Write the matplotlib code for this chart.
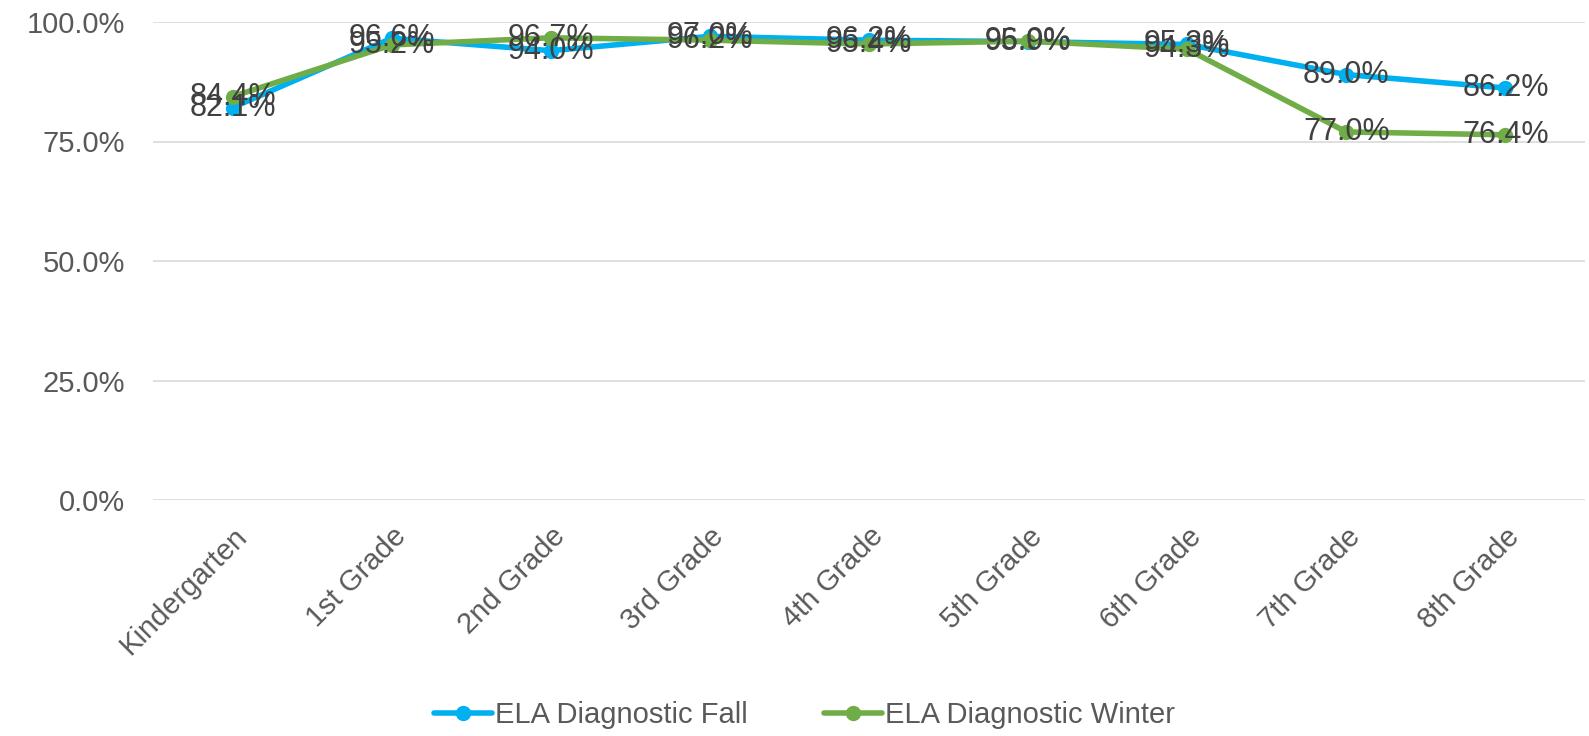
import numpy as np
import matplotlib.pyplot as plt
from matplotlib.ticker import FuncFormatter

grades = ['Kindergarten', '1st Grade', '2nd Grade', '3rd Grade', '4th Grade',
          '5th Grade', '6th Grade', '7th Grade', '8th Grade']
fall = [82.1, 96.6, 94.0, 97.0, 96.2, 95.9, 95.3, 89.0, 86.2]
winter = [84.4, 95.2, 96.7, 96.2, 95.4, 96.0, 94.3, 77.0, 76.4]

c_fall = '#00B0F0'
c_winter = '#70AD47'

plt.rcParams['font.family'] = ['Liberation Sans', 'DejaVu Sans']

fig = plt.figure(figsize=(15.89, 7.36), dpi=100)
ax = fig.add_axes([153 / 1589, 1 - 500 / 736, (1585 - 153) / 1589, 478 / 736])

x = np.arange(len(grades))
ax.plot(x, fall, color=c_fall, lw=4, marker='o', ms=10,
        label='ELA Diagnostic Fall', solid_capstyle='round')
ax.plot(x, winter, color=c_winter, lw=4, marker='o', ms=10,
        label='ELA Diagnostic Winter', solid_capstyle='round')

# labels sit on the points, like the Excel original
for xi, v in zip(x, fall):
    ax.text(xi, v, '{:.1f}%'.format(v), ha='center', va='center',
            fontsize=22, color='#404040')
for xi, v in zip(x, winter):
    ax.text(xi, v, '{:.1f}%'.format(v), ha='center', va='center',
            fontsize=22, color='#404040')

ax.set_xlim(-0.5, len(grades) - 0.5)
ax.set_ylim(0, 100)
ax.set_yticks([0, 25, 50, 75, 100])
ax.yaxis.set_major_formatter(FuncFormatter(lambda v, p: '{:.1f}%'.format(v)))
ax.grid(axis='y', color='#D9D9D9', lw=1.2)
ax.set_axisbelow(True)
for s in ax.spines.values():
    s.set_visible(False)
ax.tick_params(axis='both', length=0, labelsize=21, colors='#595959')
ax.tick_params(axis='y', pad=20)
ax.tick_params(axis='x', pad=16)
ax.set_xticks(x)
ax.set_xticklabels(grades, rotation=45, ha='right', rotation_mode='anchor')

ax.legend(loc='lower center', bbox_to_anchor=(0.455, -0.535), ncol=2,
          frameon=False, fontsize=21, labelcolor='#595959',
          handlelength=2.0, handletextpad=0.1, columnspacing=2.6)

fig.savefig('out.png')
